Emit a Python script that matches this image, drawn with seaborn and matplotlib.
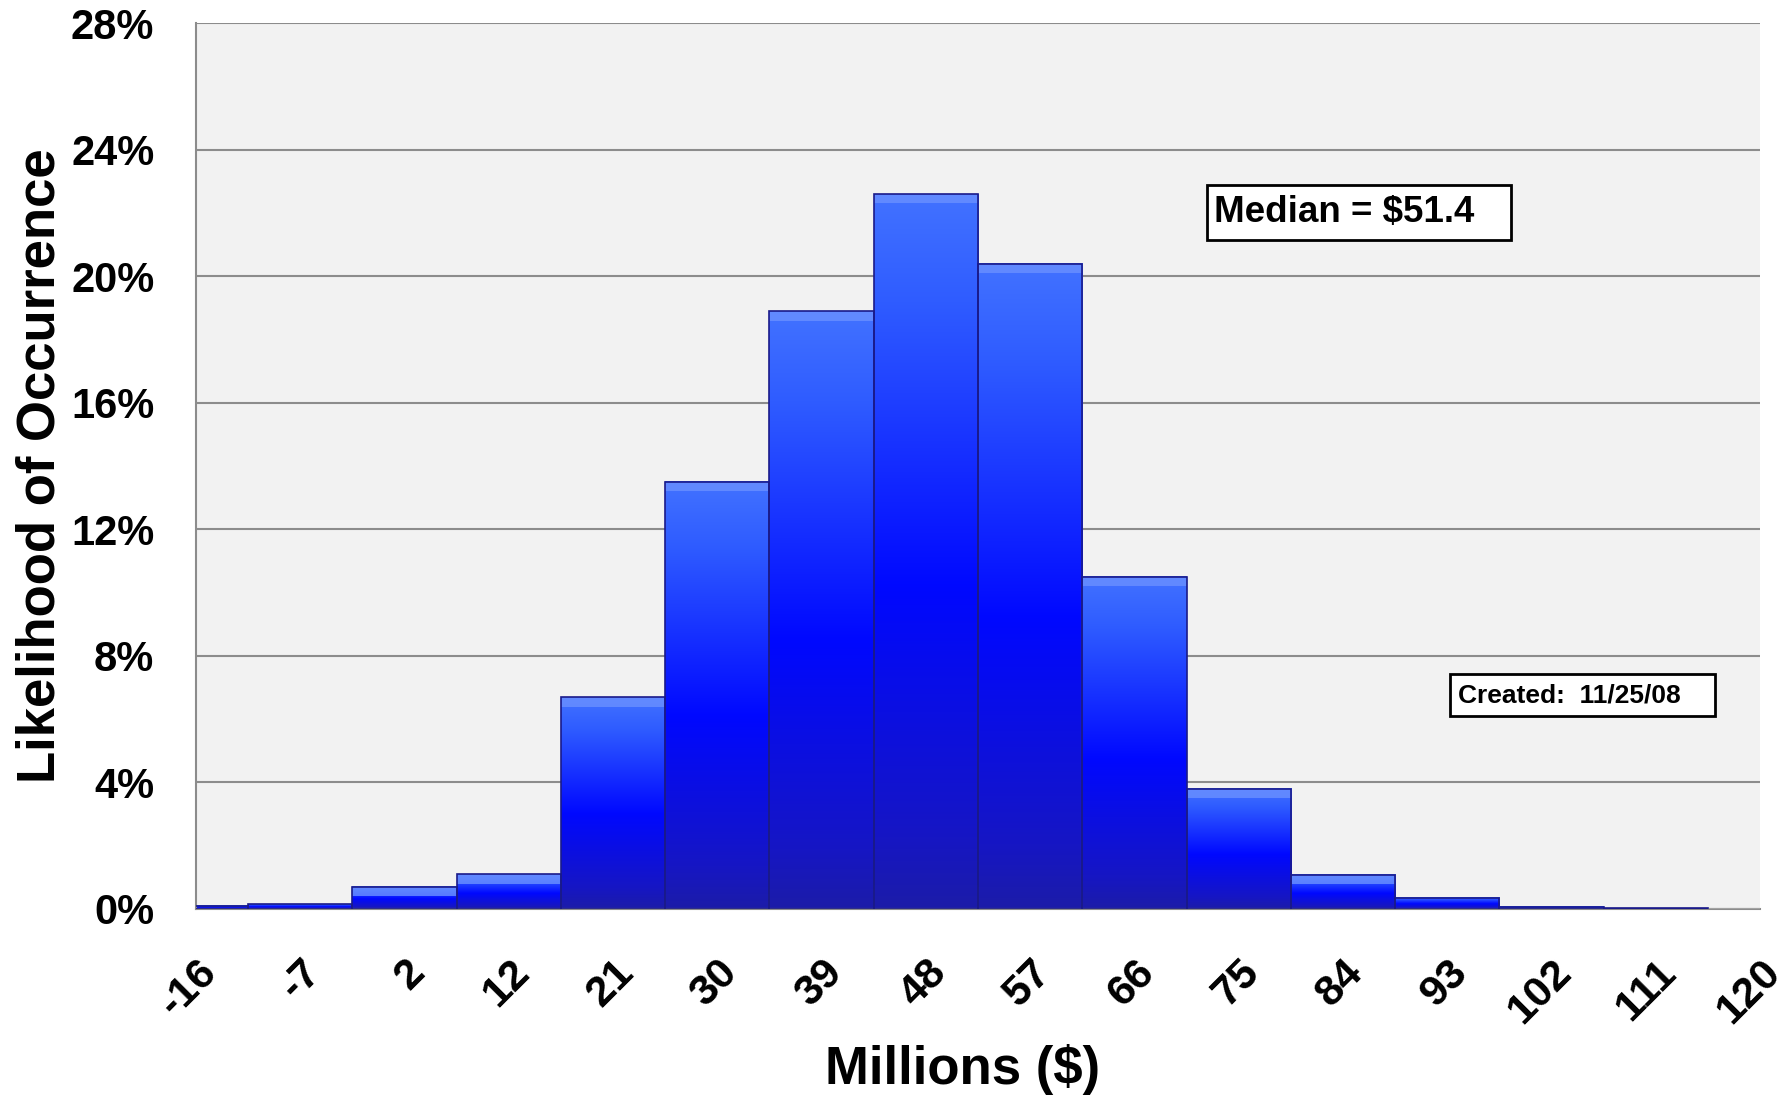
import matplotlib
matplotlib.use("Agg")
import matplotlib.pyplot as plt
import matplotlib.patches as mpatches
from matplotlib.colors import LinearSegmentedColormap
import numpy as np
import pandas as pd
import seaborn as sns

# bin labels (millions $) and likelihood of each bin (%)
bins = ["-16", "-7", "2", "12", "21", "30", "39", "48", "57", "66",
        "75", "84", "93", "102", "111", "120"]
likelihood = [0.1, 0.15, 0.7, 1.1, 6.7, 13.5, 18.9, 22.6, 20.4, 10.5,
              3.8, 1.08, 0.36, 0.07, 0.03, 0.0]
y_ticks = [0, 4, 8, 12, 16, 20, 24, 28]

median_text = "Median = $51.4"
created_text = "Created:  11/25/08"

df = pd.DataFrame({"bin": bins, "pct": likelihood})

sns.set_theme(style="white")
plt.rcParams["font.family"] = ["Liberation Sans", "DejaVu Sans"]
plt.rcParams["font.weight"] = "bold"
plt.rcParams["text.color"] = "black"
plt.rcParams["axes.labelcolor"] = "black"
plt.rcParams["xtick.labelcolor"] = "black"
plt.rcParams["ytick.labelcolor"] = "black"

fig = plt.figure(figsize=(17.87, 11.03), dpi=100)
ax = fig.add_axes([0.1097, 0.1759, 0.8752, 0.8031])
ax.set_facecolor("#f2f2f2")

sns.barplot(data=df, x="bin", y="pct", order=bins, width=1.0,
            color="blue", saturation=1, ax=ax, zorder=3)

xmin, xmax = 0, len(bins) - 1

# vertical gradient for each bar: dark navy bottom -> pure blue -> light top
grad = LinearSegmentedColormap.from_list(
    "bar", [(0.0, "#1c1ca8"), (0.1, "#1616c4"), (0.45, "#0008ff"),
            (0.85, "#2f5cff"), (1.0, "#4272ff")], N=512)
g = np.linspace(0, 1, 512).reshape(-1, 1)
for p in list(ax.patches):
    x0, w, h = p.get_x(), p.get_width(), p.get_height()
    if h <= 0:
        continue
    left, right = max(x0, xmin), min(x0 + w, xmax)
    p.set_facecolor("none")
    p.set_edgecolor("#1a1a8a")
    p.set_linewidth(1.2)
    ax.imshow(g, cmap=grad, origin="lower", aspect="auto",
              extent=[left, right, 0, h], zorder=2.5, interpolation="bilinear")
    if h > 0.5:
        ax.add_patch(mpatches.Rectangle((left, h - 0.3), right - left, 0.3,
                                        facecolor="#6a90ff", edgecolor="none",
                                        alpha=0.8, zorder=2.8))

ax.set_xlim(xmin, xmax)
ax.set_ylim(0, 28)
ax.set_yticks(y_ticks)
ax.set_yticklabels([f"{t}%" for t in y_ticks], fontsize=30, fontweight="bold")
ax.set_xticks(range(len(bins)))
ax.set_xticklabels(bins, fontsize=31, fontweight="bold", rotation=45,
                   ha="right", va="top", rotation_mode="anchor")

ax.yaxis.grid(True, color="#8c8c8c", linewidth=1.5, zorder=1)
ax.set_axisbelow(True)
for side in ["top", "right"]:
    ax.spines[side].set_visible(False)
for side in ["left", "bottom"]:
    ax.spines[side].set_color("#8c8c8c")
    ax.spines[side].set_linewidth(1.5)
ax.tick_params(axis="y", length=10, width=1.5, color="#8c8c8c", pad=20)
ax.tick_params(axis="x", length=10, width=1.5, color="#8c8c8c", pad=21)

ax.set_xlabel("Millions ($)", fontsize=38, fontweight="bold")
ax.set_ylabel("Likelihood of Occurrence", fontsize=38, fontweight="bold",
              labelpad=4)
ax.xaxis.set_label_coords(0.49, -0.152)

# annotation boxes
fig.patches.append(mpatches.Rectangle((0.6754, 0.7824), 0.1701, 0.0499,
                                      transform=fig.transFigure, fc="white",
                                      ec="black", lw=2, zorder=5))
fig.text(0.6794, 0.8073, median_text, fontsize=26.5, fontweight="bold",
         va="center", ha="left", zorder=6)
fig.patches.append(mpatches.Rectangle((0.8114, 0.3509), 0.1483, 0.0381,
                                      transform=fig.transFigure, fc="white",
                                      ec="black", lw=2, zorder=5))
fig.text(0.8159, 0.3699, created_text, fontsize=19, fontweight="bold",
         va="center", ha="left", zorder=6)

fig.savefig("out.png", dpi=100, facecolor="white")
